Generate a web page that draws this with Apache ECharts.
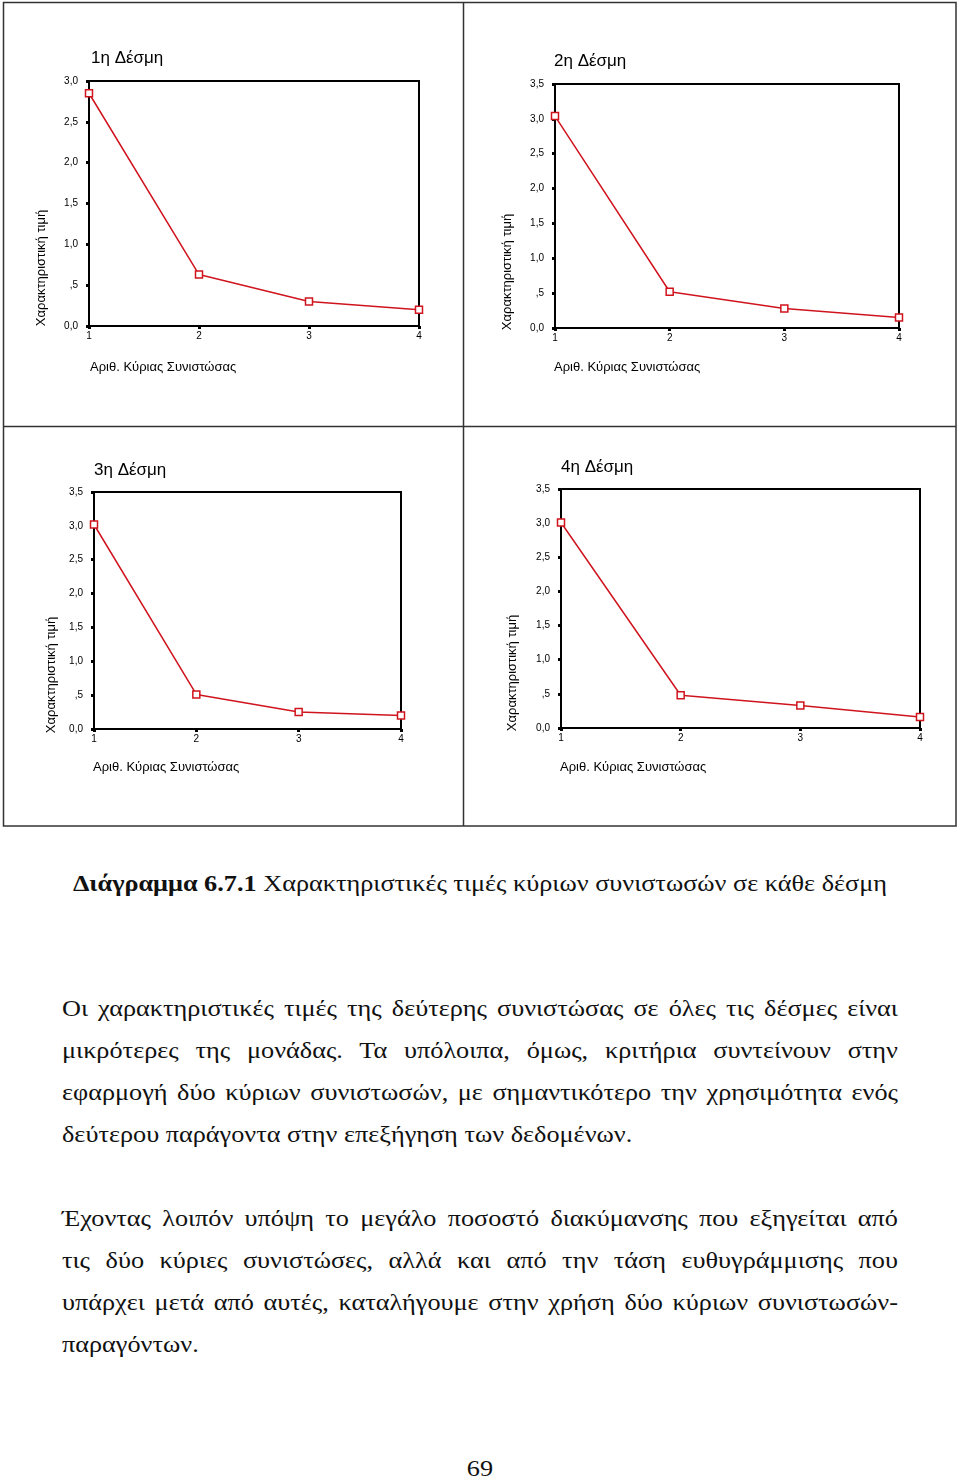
<!DOCTYPE html>
<html>
<head>
<meta charset="utf-8">
<script src="https://cdn.jsdelivr.net/npm/echarts@6/dist/echarts.min.js"></script>
<style>
  html, body { margin: 0; padding: 0; background: #fff; }
  body { width: 960px; height: 1479px; position: relative; overflow: hidden; }
  #chart { position: absolute; left: 0; top: 0; width: 960px; height: 840px; }
  .txt { position: absolute; font-family: "Liberation Serif", "Times New Roman", serif; font-size: 23.5px; line-height: 42px; color: #111;
         transform: scaleX(1.117); transform-origin: 0 0; }
  .line { text-align: justify; text-align-last: justify; white-space: nowrap; }
  .last { text-align: left; text-align-last: left; }
</style>
</head>
<body>
<div id="chart"></div>
<div class="txt" style="left:0; width:859.4px; top:862px; text-align:center; white-space:nowrap;"><b>Διάγραμμα 6.7.1</b> Χαρακτηριστικές τιμές κύριων συνιστωσών σε κάθε δέσμη</div>
<div class="txt" style="left:62px; width:748.4px; top:987px;">
  <div class="line">Οι χαρακτηριστικές τιμές της δεύτερης συνιστώσας σε όλες τις δέσμες είναι</div>
  <div class="line">μικρότερες της μονάδας. Τα υπόλοιπα, όμως, κριτήρια συντείνουν στην</div>
  <div class="line">εφαρμογή δύο κύριων συνιστωσών, με σημαντικότερο την χρησιμότητα ενός</div>
  <div class="line last">δεύτερου παράγοντα στην επεξήγηση των δεδομένων.</div>
  <div class="line last">&nbsp;</div>
  <div class="line">Έχοντας λοιπόν υπόψη το μεγάλο ποσοστό διακύμανσης που εξηγείται από</div>
  <div class="line">τις δύο κύριες συνιστώσες, αλλά και από την τάση ευθυγράμμισης που</div>
  <div class="line">υπάρχει μετά από αυτές, καταλήγουμε στην χρήση δύο κύριων συνιστωσών-</div>
  <div class="line last">παραγόντων.</div>
</div>
<div class="txt" style="left:0; width:859.4px; top:1447px; text-align:center;">69</div>
<script>
// ---- data ----
const components = ['1', '2', '3', '4'];
const bundle1 = [2.85, 0.63, 0.30, 0.20];
const bundle2 = [3.04, 0.52, 0.28, 0.15];
const bundle3 = [3.02, 0.51, 0.25, 0.20];
const bundle4 = [3.01, 0.48, 0.33, 0.16];
const yMaxes = [3.0, 3.5, 3.5, 3.5];
const titles = ['1η Δέσμη', '2η Δέσμη', '3η Δέσμη', '4η Δέσμη'];
const xName = 'Αριθ. Κύριας Συνιστώσας';
const yName = 'Χαρακτηριστική τιμή';

const series = [bundle1, bundle2, bundle3, bundle4];
// layout of the four panels
const grids = [
  { left: 89, top: 81, width: 330, height: 245 },
  { left: 555, top: 84, width: 344, height: 244 },
  { left: 94, top: 492, width: 307, height: 237 },
  { left: 561, top: 489, width: 359, height: 239 }
];
const titlePos = [[91, 50], [554, 53], [94, 462], [561, 459]];
const xNamePos = [[90, 361], [554, 361], [93, 761], [560, 761]];
const yNamePos = [[41, 268], [507, 272], [51, 675], [512, 673]];

const RED = '#d0141e';
const FONT = 'Liberation Sans, Arial, sans-serif';
const fmt = v => (Math.abs(v - 0.5) < 1e-9 ? ',5' : v.toFixed(1).replace('.', ','));

const option = {
  animation: false,
  backgroundColor: '#fff',
  grid: grids.map(g => Object.assign({ show: true, borderColor: '#000', borderWidth: 2, backgroundColor: 'transparent' }, g)),
  title: titles.map((t, i) => ({
    text: t, left: titlePos[i][0], top: titlePos[i][1], padding: 0,
    textStyle: { fontFamily: FONT, fontSize: 17, fontWeight: 'normal', color: '#000' }
  })).concat(xNamePos.map(p => ({
    text: xName, left: p[0], top: p[1], padding: 0,
    textStyle: { fontFamily: FONT, fontSize: 13, fontWeight: 'normal', color: '#000' }
  }))),
  xAxis: grids.map((g, i) => ({
    type: 'category', gridIndex: i, data: components, boundaryGap: false,
    axisLine: { lineStyle: { color: '#000', width: 2 } },
    axisTick: { show: true, alignWithLabel: true, length: 3, lineStyle: { color: '#000', width: 3 } },
    axisLabel: { color: '#000', fontSize: 10, margin: 5, fontFamily: FONT },
    splitLine: { show: false }
  })),
  yAxis: grids.map((g, i) => ({
    type: 'value', gridIndex: i, min: 0, max: yMaxes[i], interval: 0.5,
    axisLine: { show: true, lineStyle: { color: '#000', width: 2 } },
    axisTick: { show: true, length: 3, lineStyle: { color: '#000', width: 3 } },
    axisLabel: { color: '#000', fontSize: 10, margin: 11, formatter: fmt, fontFamily: FONT },
    splitLine: { show: false }
  })),
  series: series.map((d, i) => ({
    type: 'line', xAxisIndex: i, yAxisIndex: i, data: d,
    symbol: 'rect', symbolSize: 7,
    itemStyle: { color: '#fff', borderColor: RED, borderWidth: 1.5 },
    lineStyle: { color: RED, width: 1.5 },
    z: 5
  })),
  graphic: [
    { type: 'rect', shape: { x: 3.5, y: 2.5, width: 952.5, height: 823.5 }, style: { fill: 'none', stroke: '#333', lineWidth: 1.5 } },
    { type: 'line', shape: { x1: 463.5, y1: 2.5, x2: 463.5, y2: 826 }, style: { stroke: '#333', lineWidth: 1.5 } },
    { type: 'line', shape: { x1: 3.5, y1: 426.5, x2: 956, y2: 426.5 }, style: { stroke: '#333', lineWidth: 1.5 } }
  ].concat(yNamePos.map(p => ({
    type: 'text', x: p[0], y: p[1], rotation: Math.PI / 2,
    style: { text: yName, fill: '#000', fontSize: 13, fontFamily: FONT, align: 'center', verticalAlign: 'middle' }
  })))
};

const chart = echarts.init(document.getElementById('chart'), null, { renderer: 'canvas' });
chart.setOption(option);
</script>
</body>
</html>
